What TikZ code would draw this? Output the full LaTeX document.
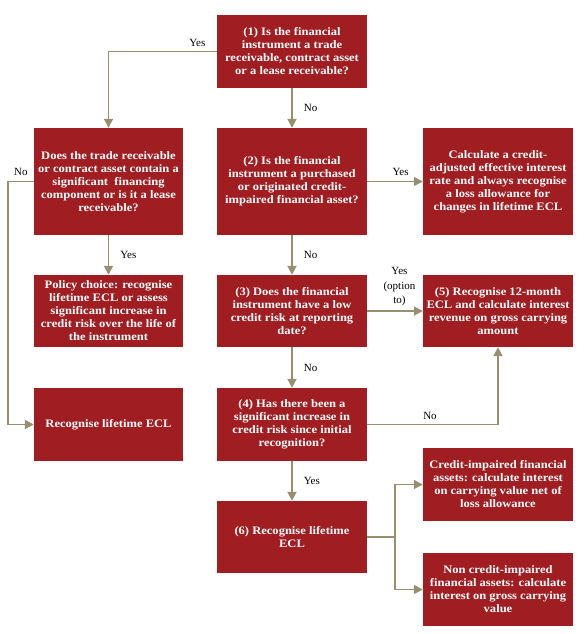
\documentclass[tikz,border=0pt]{standalone}
\usepackage{fontspec}
\setmainfont{Liberation Serif}
\newfontfamily\boxfont{Liberation Serif}[FakeStretch=1.1]
\usetikzlibrary{arrows.meta,positioning}
\definecolor{eclred}{RGB}{160,30,34}
\definecolor{eclgrey}{RGB}{152,142,112}

\begin{document}
\begin{tikzpicture}[x=1pt,y=-1pt,font=\fontsize{11}{12.5}\selectfont,
    box/.style={fill=eclred,text=white,font=\boxfont\bfseries\fontsize{11.4}{13}\selectfont,
      align=center,inner sep=0pt,minimum width=150pt},
    flow/.style={draw=eclgrey,line width=1.8pt,-{Triangle[width=9pt,length=9pt]}},
    lbl/.style={text=black,inner sep=1pt}]
  \useasboundingbox (0,0) rectangle (584,634);
  % question column
  \node[box,minimum height=73pt] (q1) at (292,51.5) {(1) Is the financial\\instrument a trade\\receivable, contract asset\\or a lease receivable?};
  \node[box,minimum height=107pt] (q2) at (292,181.5) {(2) Is the financial\\instrument a purchased\\or originated credit-\\impaired financial asset?};
  \node[box,minimum height=72pt] (q3) at (292,311) {(3) Does the financial\\instrument have a low\\credit risk at reporting\\date?};
  \node[box,minimum height=73pt] (q4) at (292,424.5) {(4) Has there been a\\significant increase in\\credit risk since initial\\recognition?};
  \node[box,minimum height=72pt] (b6) at (292,537) {(6) Recognise lifetime\\ECL};
  % left column
  \node[box,minimum width=149pt,minimum height=107pt] (lq) at (108.5,181.5) {Does the trade receivable\\or contract asset contain a\\significant\ \ financing\\component or is it a lease\\receivable?};
  \node[box,minimum width=149pt,minimum height=72pt] (lp) at (108.5,311) {Policy choice: recognise\\lifetime ECL or assess\\significant increase in\\credit risk over the life of\\the instrument};
  \node[box,minimum width=149pt,minimum height=73pt] (ll) at (108.5,424.5) {Recognise lifetime ECL};
  % right column
  \node[box,minimum height=107pt] (r2) at (498,181.5) {Calculate a credit-\\adjusted effective interest\\rate and always recognise\\a loss allowance for\\changes in lifetime ECL};
  \node[box,minimum height=72pt] (b5) at (498,311) {(5) Recognise 12-month\\ECL and calculate interest\\revenue on gross carrying\\amount};
  \node[box,minimum height=73pt] (ci) at (498,484.5) {Credit-impaired financial\\assets: calculate interest\\on carrying value net of\\loss allowance};
  \node[box,minimum height=73pt] (nci) at (498,589.5) {Non credit-impaired\\financial assets: calculate\\interest on gross carrying\\value};
  \coordinate (fork) at (395,537);
  % connectors
  \draw[flow] (q1.west) -| (lq.north) node[lbl,pos=0.09,above=3pt]{Yes};
  \draw[flow] (q1) -- (q2) node[lbl,midway,right=10pt]{No};
  \draw[flow] (lq.west) -- ++(-26,0) node[lbl,pos=0.5,above=4pt]{No} |- (ll.west);
  \draw[flow] (lq) -- (lp) node[lbl,midway,right=10pt]{Yes};
  \draw[flow] (q2) -- (r2) node[lbl,pos=0.6,above=4pt]{Yes};
  \draw[flow] (q2) -- (q3) node[lbl,midway,right=10pt]{No};
  \draw[flow] (q3) -- (b5) node[lbl,pos=0.58,above=3pt,align=center,font=\fontsize{11}{14.5}\selectfont]{Yes\\(option\\to)};
  \draw[flow] (q3) -- (q4) node[lbl,midway,right=10pt]{No};
  \draw[flow] (q4.east) -| (b5.south) node[lbl,pos=0.24,above=3pt]{No};
  \draw[flow] (q4) -- (b6) node[lbl,midway,right=10pt]{Yes};
  \draw[draw=eclgrey,line width=1.8pt] (b6.east) -- (fork);
  \draw[flow] (fork) |- (ci.west);
  \draw[flow] (fork) |- (nci.west);
\end{tikzpicture}
\end{document}
